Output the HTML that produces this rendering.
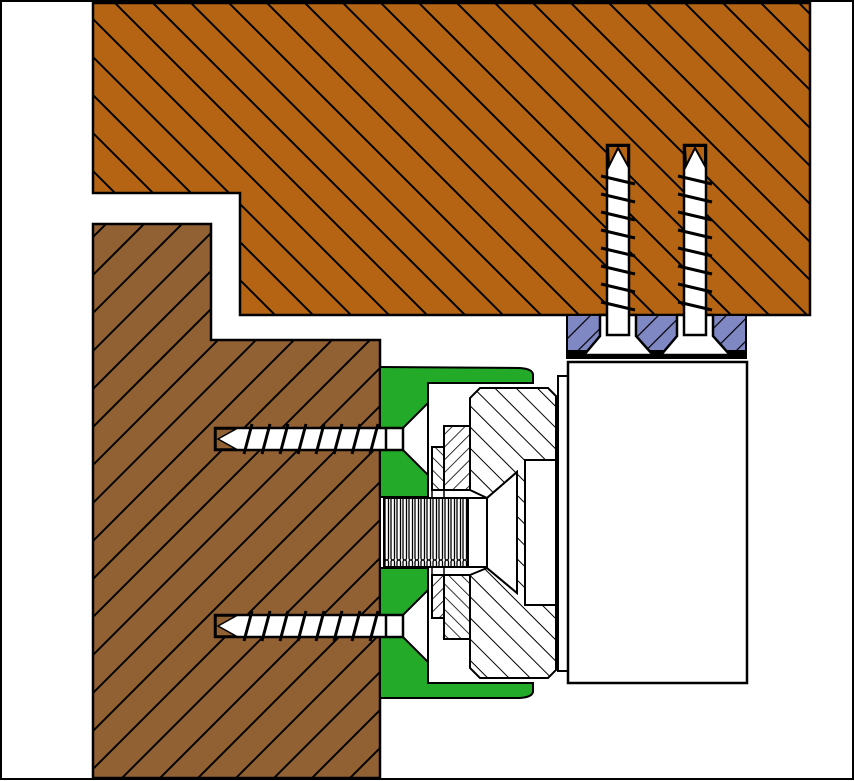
<!DOCTYPE html>
<html><head><meta charset="utf-8"><style>
html,body{margin:0;padding:0;background:#fff}
svg{display:block}
</style></head><body>
<svg width="855" height="781" viewBox="0 0 855 781" xmlns="http://www.w3.org/2000/svg">
<defs>
<clipPath id="cO"><polygon points="93,3 810,3 810,315 240,315 240,193 93,193"/></clipPath>
<clipPath id="cB"><polygon points="93,224 211,224 211,340 380,340 380,778 93,778"/></clipPath>
<pattern id="hP" patternUnits="userSpaceOnUse" width="16" height="16" patternTransform="rotate(45)">
<rect width="16" height="16" fill="#8088c4"/><line x1="0" y1="0" x2="0" y2="16" stroke="#000" stroke-width="2.4"/></pattern>
<pattern id="hN" patternUnits="userSpaceOnUse" width="15" height="15" patternTransform="rotate(-45)">
<rect width="15" height="15" fill="#fff"/><line x1="0" y1="0" x2="0" y2="15" stroke="#000" stroke-width="2"/></pattern>
<pattern id="hW" patternUnits="userSpaceOnUse" width="9" height="9" patternTransform="rotate(45)">
<rect width="9" height="9" fill="#fff"/><line x1="0" y1="0" x2="0" y2="9" stroke="#000" stroke-width="1.6"/></pattern>
<pattern id="hW2" patternUnits="userSpaceOnUse" width="9" height="9" patternTransform="rotate(-45)">
<rect width="9" height="9" fill="#fff"/><line x1="0" y1="0" x2="0" y2="9" stroke="#000" stroke-width="1.6"/></pattern>
<pattern id="thr" patternUnits="userSpaceOnUse" width="6" height="80">
<rect width="6" height="80" fill="#fff"/><rect x="1" y="0" width="3.5" height="80" rx="2" fill="none" stroke="#000" stroke-width="1.3"/></pattern>
</defs>
<rect x="1" y="1" width="852" height="778" fill="#fff" stroke="#000" stroke-width="2"/>
<polygon points="93,3 810,3 810,315 240,315 240,193 93,193" fill="#b56414"/>
<path clip-path="url(#cO)" stroke="#000" stroke-width="2" fill="none" d="M-686 0l800 800M-648 0l800 800M-610 0l800 800M-572 0l800 800M-534 0l800 800M-496 0l800 800M-458 0l800 800M-420 0l800 800M-382 0l800 800M-344 0l800 800M-306 0l800 800M-268 0l800 800M-230 0l800 800M-192 0l800 800M-154 0l800 800M-116 0l800 800M-78 0l800 800M-40 0l800 800M-2 0l800 800M36 0l800 800M74 0l800 800M112 0l800 800M150 0l800 800M188 0l800 800M226 0l800 800M264 0l800 800M302 0l800 800M340 0l800 800M378 0l800 800M416 0l800 800M454 0l800 800M492 0l800 800M530 0l800 800M568 0l800 800M606 0l800 800M644 0l800 800M682 0l800 800M720 0l800 800M758 0l800 800M796 0l800 800"/>
<polygon points="93,3 810,3 810,315 240,315 240,193 93,193" fill="none" stroke="#000" stroke-width="2.5"/>
<polygon points="93,224 211,224 211,340 380,340 380,778 93,778" fill="#926133"/>
<path clip-path="url(#cB)" stroke="#000" stroke-width="2" fill="none" d="M330 0l-800 800M368 0l-800 800M406 0l-800 800M444 0l-800 800M482 0l-800 800M520 0l-800 800M558 0l-800 800M596 0l-800 800M634 0l-800 800M672 0l-800 800M710 0l-800 800M748 0l-800 800M786 0l-800 800M824 0l-800 800M862 0l-800 800M900 0l-800 800M938 0l-800 800M976 0l-800 800M1014 0l-800 800M1052 0l-800 800M1090 0l-800 800M1128 0l-800 800M1166 0l-800 800"/>
<polygon points="93,224 211,224 211,340 380,340 380,778 93,778" fill="none" stroke="#000" stroke-width="2.5"/>
<rect x="567" y="315" width="179" height="43" fill="url(#hP)" stroke="#000" stroke-width="2"/>
<rect x="567" y="350" width="179" height="8" fill="#000"/>
<g stroke="#000" stroke-width="2.5" fill="#fff">
<polygon points="600,315 636,315 636,336 653,355 584,355 600,336"/>
<rect x="607" y="145" width="22" height="190"/>
<polygon points="677,315 713,315 713,336 730,355 661,355 677,336"/>
<rect x="684" y="145" width="22" height="190"/>
</g>
<g fill="#b56414" stroke="#000" stroke-width="2"><polygon points="608,146 628,146 628,166 618,148 609,166"/><polygon points="685,146 705,146 705,166 695,148 686,166"/></g>
<g stroke="#000" stroke-width="3">
<line x1="601" y1="176" x2="635" y2="184"/><line x1="601" y1="194" x2="635" y2="202"/><line x1="601" y1="212" x2="635" y2="220"/><line x1="601" y1="230" x2="635" y2="238"/><line x1="601" y1="248" x2="635" y2="256"/><line x1="601" y1="266" x2="635" y2="274"/><line x1="601" y1="284" x2="635" y2="292"/><line x1="601" y1="302" x2="635" y2="310"/>
<line x1="678" y1="176" x2="712" y2="184"/><line x1="678" y1="194" x2="712" y2="202"/><line x1="678" y1="212" x2="712" y2="220"/><line x1="678" y1="230" x2="712" y2="238"/><line x1="678" y1="248" x2="712" y2="256"/><line x1="678" y1="266" x2="712" y2="274"/><line x1="678" y1="284" x2="712" y2="292"/><line x1="678" y1="302" x2="712" y2="310"/>
</g>
<path d="M380,367 L520,368 Q534,369 533,376 L533,383 L428,383 L428,683 L533,683 L533,690 Q534,697 520,698 L380,698 Z" fill="#22aa28" stroke="#000" stroke-width="2"/>
<g fill="#fff" stroke="#000" stroke-width="2">
<polygon points="380,428 403,428 428,403 428,475 403,450 380,450"/>
<polygon points="380,497 428,497 428,568 380,568"/>
<polygon points="380,615 403,615 428,590 428,662 403,637 380,637"/>
</g>
<g stroke="#000" stroke-width="2.5">
<rect x="215" y="428" width="188" height="22" fill="#fff"/>
<rect x="215" y="615" width="188" height="22" fill="#fff"/>
<polygon points="216,429 236,429 218,439 236,449 216,449" fill="#926133" stroke-width="1.5"/>
<polygon points="216,616 236,616 218,626 236,636 216,636" fill="#926133" stroke-width="1.5"/>
<line x1="386" y1="428" x2="386" y2="450"/><line x1="386" y1="615" x2="386" y2="637"/>
</g>
<g stroke="#000" stroke-width="3">
<line x1="252" y1="424" x2="244" y2="454"/><line x1="270" y1="424" x2="262" y2="454"/><line x1="288" y1="424" x2="280" y2="454"/><line x1="306" y1="424" x2="298" y2="454"/><line x1="324" y1="424" x2="316" y2="454"/><line x1="342" y1="424" x2="334" y2="454"/><line x1="360" y1="424" x2="352" y2="454"/><line x1="378" y1="424" x2="370" y2="454"/>
<line x1="252" y1="611" x2="244" y2="641"/><line x1="270" y1="611" x2="262" y2="641"/><line x1="288" y1="611" x2="280" y2="641"/><line x1="306" y1="611" x2="298" y2="641"/><line x1="324" y1="611" x2="316" y2="641"/><line x1="342" y1="611" x2="334" y2="641"/><line x1="360" y1="611" x2="352" y2="641"/><line x1="378" y1="611" x2="370" y2="641"/>
</g>
<g stroke="#000" stroke-width="2">
<rect x="432" y="447" width="12" height="43" fill="url(#hW2)"/>
<rect x="432" y="575" width="12" height="43" fill="url(#hW)"/>
<rect x="444" y="426" width="26" height="64" fill="url(#hW)"/>
<rect x="444" y="575" width="26" height="64" fill="url(#hW2)"/>
<line x1="432" y1="490" x2="432" y2="575" stroke-width="1.5"/><line x1="444" y1="490" x2="444" y2="575" stroke-width="1.5"/>
</g>
<path d="M480,388 L548,388 L556,396 L556,460 L525,460 L525,605 L556,605 L556,670 L548,678 L480,678 L470,668 L470,575 L487,568 L517,593 L517,472 L487,498 L470,490 L470,398 Z" fill="url(#hN)" stroke="#000" stroke-width="2"/>
<rect x="525" y="460" width="31" height="145" fill="#fff" stroke="#000" stroke-width="2"/>
<polygon points="487,498 517,472 517,593 487,568" fill="#fff" stroke="#000" stroke-width="2"/>
<rect x="384" y="498" width="84" height="69" fill="url(#thr)" stroke="#000" stroke-width="2"/>
<rect x="468" y="498" width="19" height="69" fill="#fff" stroke="#000" stroke-width="2"/>
<rect x="558" y="376" width="10" height="295" fill="#fff" stroke="#000" stroke-width="2"/>
<rect x="568" y="362" width="179" height="321" fill="#fff" stroke="#000" stroke-width="2.5"/>
</svg>
</body></html>
